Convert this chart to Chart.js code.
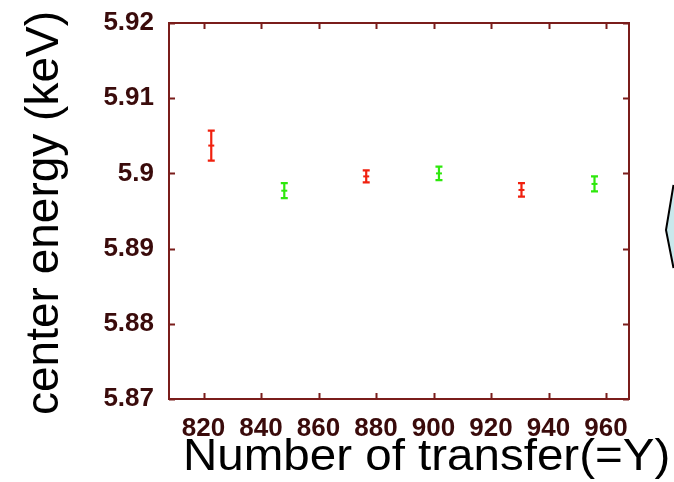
<!DOCTYPE html>
<html>
<head>
<meta charset="utf-8">
<script src="https://cdn.jsdelivr.net/npm/chart.js@4.4.1/dist/chart.umd.min.js"></script>
<style>
  html, body { margin: 0; padding: 0; background: #ffffff; }
  #wrap { position: relative; width: 674px; height: 482px; }
</style>
</head>
<body>
<div id="wrap"><canvas id="c"></canvas></div>
<script>
// Fitted line-centre energy versus number of transfers (two alternating runs)
const redTransfer   = [822.7, 876.6, 930.6];
const redEnergy     = [5.9037, 5.8996, 5.8978];
const redError      = [0.0020, 0.0008, 0.0009];

const greenTransfer = [848.1, 901.9, 956.0];
const greenEnergy   = [5.8977, 5.9000, 5.8986];
const greenError    = [0.0010, 0.0009, 0.0010];

const xTickValues = [820, 840, 860, 880, 900, 920, 940, 960];
const yTickValues = [5.87, 5.88, 5.89, 5.90, 5.91, 5.92];
const yTickLabels = ['5.87', '5.88', '5.89', '5.9', '5.91', '5.92'];

const xTitle = 'Number of transfer(=Y)';
const yTitle = 'center energy (keV)';

const RED = '#f0200e';
const GREEN = '#2ee80c';
const FRAME = '#7a1d1b';
const TICK_TEXT = '#3a0b0b';

function points(xs, ys, es) {
  return xs.map((x, i) => ({ x: x, y: ys[i], err: es[i] }));
}

// Vertical error bars with end caps, placed through the chart's scales
const errorBars = {
  id: 'errorBars',
  afterDatasetsDraw(chart) {
    const ctx = chart.ctx;
    const xs = chart.scales.x, ys = chart.scales.y;
    chart.data.datasets.forEach(ds => {
      ctx.save();
      ctx.strokeStyle = ds.borderColor;
      ctx.lineWidth = 2.2;
      ds.data.forEach(p => {
        const px = xs.getPixelForValue(p.x);
        const top = ys.getPixelForValue(p.y + p.err);
        const bot = ys.getPixelForValue(p.y - p.err);
        const cap = 3.5;
        ctx.beginPath();
        ctx.moveTo(px, top); ctx.lineTo(px, bot);
        ctx.moveTo(px - cap, top); ctx.lineTo(px + cap, top);
        ctx.moveTo(px - cap, bot); ctx.lineTo(px + cap, bot);
        ctx.stroke();
      });
      ctx.restore();
    });
  }
};

// Boxed frame with inward tick marks on all four sides
const frame = {
  id: 'frame',
  afterDatasetsDraw(chart) {
    const ctx = chart.ctx;
    const a = chart.chartArea;
    const xs = chart.scales.x, ys = chart.scales.y;
    const len = 6;
    ctx.save();
    ctx.strokeStyle = FRAME;
    ctx.lineWidth = 2;
    ctx.strokeRect(a.left, a.top, a.right - a.left, a.bottom - a.top);
    ctx.beginPath();
    xs.ticks.forEach(t => {
      const px = Math.round(xs.getPixelForValue(t.value)) + 0.5;
      ctx.moveTo(px, a.bottom); ctx.lineTo(px, a.bottom - len);
      ctx.moveTo(px, a.top); ctx.lineTo(px, a.top + len);
    });
    ys.ticks.forEach(t => {
      const py = Math.round(ys.getPixelForValue(t.value)) + 0.5;
      ctx.moveTo(a.left, py); ctx.lineTo(a.left + len, py);
      ctx.moveTo(a.right, py); ctx.lineTo(a.right - len, py);
    });
    ctx.stroke();
    ctx.restore();
  }
};

// Large axis titles and the edge of the neighbouring callout shape
const titles = {
  id: 'titles',
  afterDraw(chart) {
    const ctx = chart.ctx;
    ctx.save();
    ctx.fillStyle = '#000000';
    ctx.textBaseline = 'alphabetic';
    ctx.textAlign = 'left';
    ctx.save();
    ctx.font = '44px "Liberation Sans", Arial, sans-serif';
    ctx.translate(183, 470);
    ctx.scale(1.08, 1);
    ctx.fillText(xTitle, 0, 0);
    ctx.restore();

    ctx.font = '46px "Liberation Sans", Arial, sans-serif';
    ctx.translate(58, 213);
    ctx.rotate(-Math.PI / 2);
    ctx.textAlign = 'center';
    ctx.fillText(yTitle, 0, 0);
    ctx.restore();

    ctx.save();
    ctx.beginPath();
    ctx.moveTo(673.5, 185);
    ctx.lineTo(666, 230);
    ctx.lineTo(673.5, 268);
    ctx.lineTo(680, 268);
    ctx.lineTo(680, 185);
    ctx.closePath();
    ctx.fillStyle = '#c9e8ec';
    ctx.fill();
    ctx.beginPath();
    ctx.moveTo(673.5, 185);
    ctx.lineTo(666, 230);
    ctx.lineTo(673.5, 268);
    ctx.strokeStyle = '#000000';
    ctx.lineWidth = 2;
    ctx.stroke();
    ctx.restore();
  }
};

new Chart(document.getElementById('c'), {
  type: 'scatter',
  data: {
    datasets: [
      {
        label: 'red',
        data: points(redTransfer, redEnergy, redError),
        borderColor: RED,
        backgroundColor: RED,
        pointStyle: 'line',
        pointRadius: 3,
        pointBorderWidth: 2,
        pointHoverRadius: 3
      },
      {
        label: 'green',
        data: points(greenTransfer, greenEnergy, greenError),
        borderColor: GREEN,
        backgroundColor: GREEN,
        pointStyle: 'line',
        pointRadius: 3,
        pointBorderWidth: 2,
        pointHoverRadius: 3
      }
    ]
  },
  options: {
    responsive: true,
    maintainAspectRatio: false,
    animation: false,
    events: [],
    layout: { padding: { top: 23, right: 45, left: 0, bottom: 0 } },
    plugins: {
      legend: { display: false },
      tooltip: { enabled: false },
      title: { display: false }
    },
    scales: {
      x: {
        type: 'linear',
        min: 808,
        max: 968,
        grid: { display: false, drawTicks: false },
        border: { display: false },
        afterBuildTicks: s => { s.ticks = xTickValues.map(v => ({ value: v })); },
        afterFit: s => { s.height = 83; s.paddingLeft = 0; s.paddingRight = 0; },
        ticks: {
          padding: 14,
          color: TICK_TEXT,
          font: { family: '"Liberation Sans", Arial, sans-serif', size: 26, weight: 'bold' },
          callback: v => String(v)
        }
      },
      y: {
        type: 'linear',
        min: 5.87,
        max: 5.92,
        grid: { display: false, drawTicks: false },
        border: { display: false },
        afterBuildTicks: s => { s.ticks = yTickValues.map(v => ({ value: v })); },
        afterFit: s => { s.width = 169; s.paddingTop = 0; s.paddingBottom = 0; },
        ticks: {
          padding: 15,
          color: TICK_TEXT,
          font: { family: '"Liberation Sans", Arial, sans-serif', size: 26, weight: 'bold' },
          callback: (v, i) => yTickLabels[i]
        }
      }
    }
  },
  plugins: [errorBars, frame, titles]
});
</script>
</body>
</html>
